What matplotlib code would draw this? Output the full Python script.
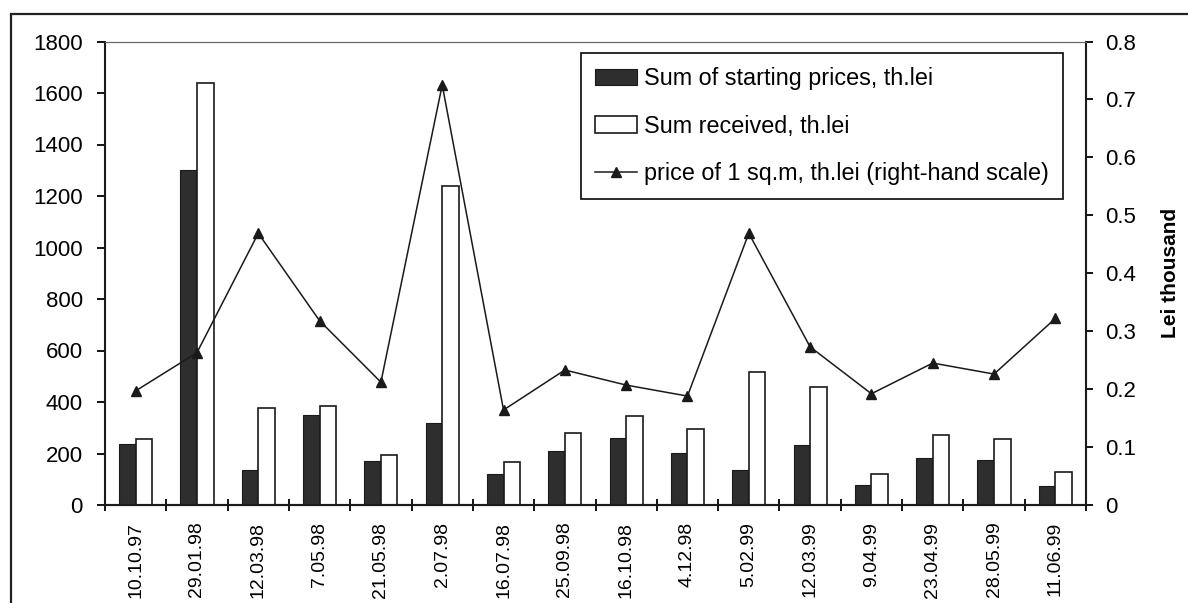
import matplotlib.pyplot as plt
import matplotlib.patches as mpatches
from matplotlib.ticker import FuncFormatter, FixedLocator
import numpy as np

plt.rcParams['font.family'] = ['Liberation Sans', 'DejaVu Sans']

dates = ["10.10.97", "29.01.98", "12.03.98", "7.05.98", "21.05.98", "2.07.98",
         "16.07.98", "25.09.98", "16.10.98", "4.12.98", "5.02.99", "12.03.99",
         "9.04.99", "23.04.99", "28.05.99", "11.06.99"]
start_sum = [237, 1300, 134, 348, 171, 319, 120, 209, 260, 201, 135, 233, 79, 183, 175, 73]
received = [258, 1640, 377, 383, 193, 1237, 168, 280, 346, 297, 518, 457, 122, 271, 256, 130]
price_sqm = [0.197, 0.263, 0.469, 0.318, 0.212, 0.725, 0.164, 0.233, 0.207, 0.188,
             0.469, 0.273, 0.192, 0.245, 0.226, 0.322]

x = np.arange(len(dates))
w = 0.27

fig = plt.figure(figsize=(11.88, 6.03), dpi=100)
ax = fig.add_axes([105 / 1188, 1 - 505 / 603, (1086 - 105) / 1188, (505 - 41.5) / 603])
ax2 = ax.twinx()

# outer frame around the whole chart
fig.patches.append(mpatches.Rectangle((11 / 1188, -0.1), 1.2, 1.1 - 14 / 603,
                                      transform=fig.transFigure, fill=False,
                                      edgecolor='#222222', lw=1.6, zorder=0))

b1 = ax.bar(x - w / 2, start_sum, w, color='#2e2e2e', edgecolor='#1a1a1a', lw=0.8,
            label="Sum of starting prices, th.lei")
b2 = ax.bar(x + w / 2, received, w, color='white', edgecolor='#1a1a1a', lw=1.2,
            label="Sum received, th.lei")
ln, = ax2.plot(x, price_sqm, color='#1a1a1a', lw=1.1, marker='^', ms=6.5,
               label="price of 1 sq.m, th.lei (right-hand scale)")

ax.set_xlim(-0.5, len(dates) - 0.5)
ax.set_ylim(0, 1800)
ax.set_yticks(np.arange(0, 1801, 200))
ax2.set_ylim(0, 0.8)
ax2.set_yticks(np.arange(0, 0.81, 0.1))
ax2.yaxis.set_major_formatter(FuncFormatter(lambda v, p: f"{v:g}"))

ax.set_xticks(x)
ax.set_xticklabels(dates, rotation=90, fontsize=14)
ax.xaxis.set_minor_locator(FixedLocator(np.arange(-0.5, len(dates), 1.0)))
ax.tick_params(axis='x', which='major', length=0, pad=12)
ax.tick_params(axis='x', which='minor', direction='inout', length=8, width=1.3)
ax.tick_params(axis='y', direction='out', length=6, width=1.3, labelsize=16, pad=10)
ax2.tick_params(axis='y', direction='out', length=5, width=1.3, labelsize=16, pad=9)

for a in (ax, ax2):
    for s in ('left', 'right', 'bottom'):
        a.spines[s].set_linewidth(1.5)
        a.spines[s].set_color('#1a1a1a')
    a.spines['top'].set_linewidth(0.8)
    a.spines['top'].set_color('#666666')
ax2.spines['left'].set_visible(False)
ax.spines['right'].set_visible(False)

ax2.set_ylabel("Lei thousand", fontsize=15, fontweight='bold', labelpad=18)

fig.legend([b1, b2, ln], [b1.get_label(), b2.get_label(), ln.get_label()],
           loc='upper right', bbox_to_anchor=(1063 / 1188, 1 - 53 / 603),
           borderaxespad=0, fancybox=False, edgecolor='#1a1a1a', framealpha=1,
           fontsize=16.8, handlelength=1.8, handletextpad=0.3, labelspacing=1.05,
           borderpad=0.6)
fig.legends[0].get_frame().set_linewidth(1.3)

fig.savefig("out.png", dpi=100)
